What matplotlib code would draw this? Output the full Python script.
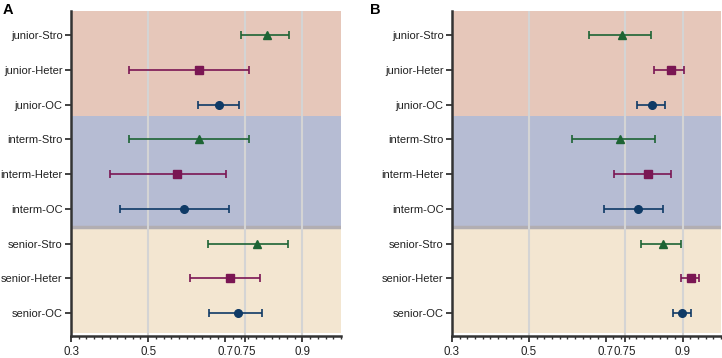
import matplotlib
matplotlib.use("Agg")
import matplotlib.pyplot as plt
import numpy as np
from matplotlib.ticker import FixedLocator, MultipleLocator

plt.rcParams['font.family'] = ['Liberation Sans', 'DejaVu Sans']

categories = ["junior-Stro", "junior-Heter", "junior-OC",
              "interm-Stro", "interm-Heter", "interm-OC",
              "senior-Stro", "senior-Heter", "senior-OC"]

# Panel A
a_mid = [0.807, 0.633, 0.684, 0.633, 0.576, 0.592, 0.781, 0.711, 0.732]
a_lo = [0.741, 0.451, 0.629, 0.451, 0.402, 0.428, 0.654, 0.608, 0.657]
a_hi = [0.865, 0.762, 0.736, 0.762, 0.703, 0.710, 0.862, 0.791, 0.794]

# Panel B
b_mid = [0.742, 0.869, 0.820, 0.737, 0.810, 0.784, 0.849, 0.922, 0.898]
b_lo = [0.657, 0.825, 0.781, 0.611, 0.722, 0.695, 0.791, 0.897, 0.875]
b_hi = [0.817, 0.903, 0.854, 0.828, 0.871, 0.848, 0.896, 0.942, 0.921]

tick_vals = [0.3, 0.5, 0.7, 0.75, 0.9]
tick_labels = ["0.3", "0.5", "0.7", "0.75", "0.9"]
grid_vals = [0.5, 0.75, 0.9]

colors = {"Stro": "#1d6434", "Heter": "#7a1653", "OC": "#0f3a66"}
markers = {"Stro": "^", "Heter": "s", "OC": "o"}
msizes = {"Stro": 5.5, "Heter": 5.5, "OC": 5.5}

W, H = 722, 358
fig = plt.figure(figsize=(W / 100, H / 100), dpi=100)


def px_axes(l, r, t, b):
    return fig.add_axes([l / W, 1 - b / H, (r - l) / W, (b - t) / H])


def draw(ax, mid, lo, hi):
    n = len(categories)
    pos = np.arange(n, 0, -1)  # top row = 9
    ax.set_xlim(0.3, 1.0)
    ax.set_ylim(0.34, 9.69)
    # bands
    ax.axhspan(6.67, 9.69, color="#e6c7ba", lw=0, zorder=0)
    ax.axhspan(3.45, 6.67, color="#b6bcd3", lw=0, zorder=0)
    ax.axhspan(0.42, 3.45, color="#f3e6d1", lw=0, zorder=0)
    ax.axhline(3.47, color="#b2aeb2", lw=2.5, zorder=0.5)
    for g in grid_vals:
        ax.axvline(g, color="#d4d4d4", lw=1.5, zorder=1)
    for i, cat in enumerate(categories):
        kind = cat.split("-")[1]
        c = colors[kind]
        ax.errorbar(mid[i], pos[i], xerr=[[mid[i] - lo[i]], [hi[i] - mid[i]]],
                    fmt=markers[kind], color=c, ms=msizes[kind], elinewidth=1.2,
                    capsize=2.7, capthick=1.2, zorder=3)
    ax.set_yticks(pos)
    ax.set_yticklabels(categories)
    ax.xaxis.set_major_locator(FixedLocator(tick_vals))
    ax.set_xticklabels(tick_labels)
    ax.xaxis.set_minor_locator(MultipleLocator(0.02))
    for s in ["top", "right"]:
        ax.spines[s].set_visible(False)
    for s in ["left", "bottom"]:
        ax.spines[s].set_color("#333333")
        ax.spines[s].set_linewidth(1.8)
    ax.tick_params(axis="both", which="major", length=4, width=1.3,
                   color="#333333", labelsize=8.0, labelcolor="#222222", pad=2)
    ax.tick_params(axis="x", which="major", labelsize=8.3, pad=3)
    ax.tick_params(axis="x", which="minor", length=2.5, width=1.0, color="#333333")
    return ax


axA = px_axes(71, 341, 11, 336)
draw(axA, a_mid, a_lo, a_hi)
axB = px_axes(452, 721, 11, 336)
draw(axB, b_mid, b_lo, b_hi)

fig.text(3 / W, 1 - 3 / H, "A", fontsize=10.5, fontweight="bold", va="top", ha="left")
fig.text(370 / W, 1 - 3 / H, "B", fontsize=10.5, fontweight="bold", va="top", ha="left")

fig.savefig("out.png", dpi=100)
